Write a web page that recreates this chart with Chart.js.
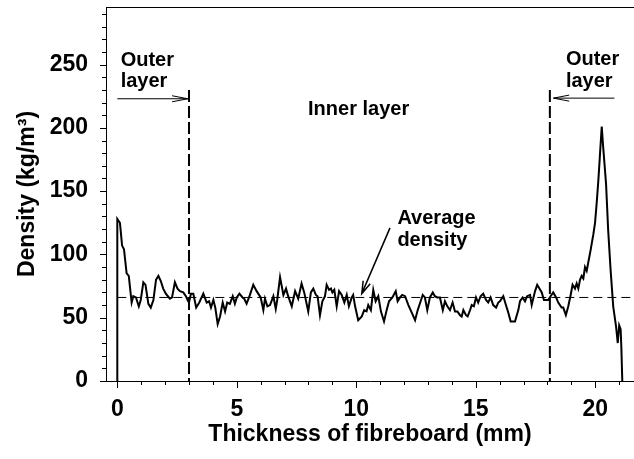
<!DOCTYPE html>
<html>
<head>
<meta charset="utf-8">
<script src="https://cdn.jsdelivr.net/npm/chart.js@4.4.1/dist/chart.umd.min.js"></script>
<style>
  html, body { margin: 0; padding: 0; background: #fff; }
</style>
</head>
<body>
<canvas id="chart" width="634" height="459"></canvas>
<script>
// Density profile (mm, kg/m3)
const thickness = [
  0, 0, 0.11, 0.2, 0.28, 0.39, 0.48, 0.6, 0.67, 0.78,
  0.9, 0.98, 1.09, 1.18, 1.3, 1.4, 1.51, 1.62, 1.72, 1.82,
  1.92, 2.03, 2.2, 2.29, 2.41, 2.52, 2.62, 2.76, 2.87, 2.94,
  3.0, 3.08, 3.18, 3.3, 3.43, 3.6, 3.74, 3.84, 3.92, 4.02,
  4.1, 4.2, 4.3, 4.41, 4.51, 4.6, 4.71, 4.83, 4.92, 5.0,
  5.11, 5.24, 5.31, 5.41, 5.55, 5.69, 5.83, 6.0, 6.11, 6.18,
  6.28, 6.39, 6.53, 6.63, 6.69, 6.81, 6.95, 7.06, 7.15, 7.3,
  7.44, 7.57, 7.71, 7.82, 7.99, 8.1, 8.2, 8.31, 8.38, 8.48,
  8.58, 8.69, 8.76, 8.86, 8.94, 9.0, 9.08, 9.18, 9.28, 9.39,
  9.5, 9.6, 9.69, 9.81, 9.87, 9.95, 10.08, 10.23, 10.33, 10.43,
  10.5, 10.61, 10.71, 10.81, 10.92, 11.03, 11.16, 11.27, 11.37, 11.51,
  11.65, 11.73, 11.83, 11.92, 12.04, 12.18, 12.32, 12.46, 12.57, 12.71,
  12.78, 12.87, 12.97, 13.08, 13.2, 13.29, 13.39, 13.5, 13.62, 13.71,
  13.81, 13.92, 14.03, 14.13, 14.23, 14.34, 14.41, 14.48, 14.59, 14.66,
  14.76, 14.83, 14.92, 15.01, 15.1, 15.2, 15.31, 15.43, 15.52, 15.62,
  15.73, 15.85, 15.94, 16.01, 16.15, 16.26, 16.36, 16.46, 16.64, 16.78,
  16.85, 16.96, 17.06, 17.15, 17.27, 17.34, 17.48, 17.57, 17.76, 17.85,
  18.03, 18.13, 18.24, 18.36, 18.45, 18.59, 18.66, 18.77, 18.87, 18.97,
  19.05, 19.15, 19.22, 19.29, 19.36, 19.43, 19.5, 19.57, 19.64, 19.71,
  19.81, 19.92, 19.99, 20.06, 20.13, 20.2, 20.27, 20.33, 20.45, 20.54,
  20.64, 20.75, 20.87, 20.94, 21.0, 21.06, 21.09, 21.13
];
const density = [
  0, 128, 125, 107, 104, 85, 83, 62, 67, 66,
  59, 64, 78, 76, 61, 58, 64, 80, 83, 79,
  73, 69, 65, 66, 78, 73, 71, 70, 67, 64,
  62, 69, 69, 58, 62, 69, 62, 63, 58, 64,
  58, 45, 51, 62, 55, 62, 61, 67, 61, 66,
  69, 66, 65, 61, 68, 76, 71, 66, 56, 65,
  59, 60, 67, 57, 64, 82, 68, 73, 67, 59,
  71, 65, 77, 70, 55, 70, 73, 68, 67, 52,
  63, 67, 76, 72, 73, 70, 72, 59, 71, 68,
  62, 68, 59, 66, 68, 59, 48, 51, 56, 55,
  60, 56, 72, 63, 67, 55, 47, 56, 63, 66,
  71, 63, 66, 68, 67, 60, 54, 48, 56, 64,
  68, 66, 56, 66, 70, 67, 66, 66, 56, 63,
  59, 56, 62, 55, 55, 52, 51, 56, 52, 51,
  56, 60, 59, 66, 62, 67, 69, 64, 62, 66,
  60, 58, 62, 63, 67, 60, 54, 47, 47, 56,
  63, 66, 63, 67, 68, 60, 71, 76, 70, 64,
  64, 67, 70, 66, 62, 58, 58, 52, 59, 68,
  76, 73, 77, 73, 80, 83, 81, 90, 87, 94,
  104, 116, 125, 141, 159, 180, 201, 185, 156, 119,
  88, 59, 43, 30, 44, 41, 27, 0
];
const averageDensity = 66;
const layerBounds = [3.0, 18.1];   // outer / inner layer boundaries (mm)
const layerLineTop = 230;

const X_MIN = -0.473, X_MAX = 21.62;
const Y_MIN = 0, Y_MAX = 295.5;

const FONT = '"Liberation Sans", Arial, Helvetica, sans-serif';
Chart.defaults.font.family = FONT;
Chart.defaults.color = '#000';

// annotation texts / arrows, placed in data units
const notes = [
  { text: 'Outer', x: 0.14, y: 249 },
  { text: 'layer', x: 0.14, y: 232 },
  { text: 'Outer', x: 18.77, y: 249.5 },
  { text: 'layer', x: 18.77, y: 232 },
  { text: 'Inner layer', x: 7.98, y: 210 },
  { text: 'Average', x: 11.72, y: 124 },
  { text: 'density', x: 11.72, y: 107 }
];
const arrows = [
  { from: [0, 223], to: [2.95, 223], head: 16, angle: 0.19, width: 1 },
  { from: [20.8, 223.5], to: [18.25, 223.5], head: 16, angle: 0.19, width: 1 },
  { from: [11.41, 121], to: [10.23, 69], head: 13, angle: 0.3, width: 1.5 }
];

function drawArrow(ctx, x1, y1, x2, y2, len, ang) {
  const a = Math.atan2(y2 - y1, x2 - x1);
  ctx.beginPath();
  ctx.moveTo(x1, y1);
  ctx.lineTo(x2, y2);
  ctx.moveTo(x2 - len * Math.cos(a - ang), y2 - len * Math.sin(a - ang));
  ctx.lineTo(x2, y2);
  ctx.lineTo(x2 - len * Math.cos(a + ang), y2 - len * Math.sin(a + ang));
  ctx.stroke();
}

const decorations = {
  id: 'decorations',
  afterDraw(chart) {
    const { ctx, chartArea } = chart;
    const xs = chart.scales.x, ys = chart.scales.y;
    ctx.save();
    ctx.strokeStyle = '#000';
    ctx.lineWidth = 1;

    // top frame line
    const topY = Math.floor(chartArea.top) + 0.5;
    ctx.beginPath();
    ctx.moveTo(chartArea.left, topY);
    ctx.lineTo(chartArea.right, topY);
    ctx.stroke();

    // x ticks, major every 5 mm, minor every 1 mm
    ctx.beginPath();
    for (let v = 0; v <= 21; v++) {
      const px = Math.round(xs.getPixelForValue(v)) + 0.5;
      const len = v % 5 === 0 ? 7 : 4;
      ctx.moveTo(px, chartArea.bottom);
      ctx.lineTo(px, chartArea.bottom + len);
    }
    // y ticks, major every 50, minor every 10
    for (let v = 0; v <= 290; v += 10) {
      const py = Math.round(ys.getPixelForValue(v)) + 0.5;
      const len = v % 50 === 0 ? 6 : 4;
      ctx.moveTo(chartArea.left, py);
      ctx.lineTo(chartArea.left - len, py);
    }
    ctx.stroke();

    // arrows
    arrows.forEach(a => {
      ctx.lineWidth = a.width;
      drawArrow(ctx,
        xs.getPixelForValue(a.from[0]), ys.getPixelForValue(a.from[1]),
        xs.getPixelForValue(a.to[0]), ys.getPixelForValue(a.to[1]),
        a.head, a.angle);
    });

    // texts
    ctx.fillStyle = '#000';
    ctx.font = 'bold 20px ' + FONT;
    ctx.textAlign = 'left';
    ctx.textBaseline = 'alphabetic';
    notes.forEach(n => ctx.fillText(n.text, xs.getPixelForValue(n.x), ys.getPixelForValue(n.y)));
    ctx.restore();
  }
};

const points = thickness.map((t, i) => ({ x: t, y: density[i] }));

new Chart(document.getElementById('chart'), {
  type: 'line',
  data: {
    datasets: [
      {
        label: 'Density',
        data: points,
        borderColor: '#000',
        borderWidth: 2,
        pointRadius: 0,
        tension: 0,
        fill: false
      },
      {
        label: 'Average density',
        data: [{ x: 0, y: averageDensity }, { x: X_MAX, y: averageDensity }],
        borderColor: '#000',
        borderWidth: 1,
        borderDash: [9, 5],
        pointRadius: 0
      },
      ...layerBounds.map(b => ({
        label: 'Layer boundary',
        data: [{ x: b, y: layerLineTop }, { x: b, y: 0 }],
        borderColor: '#000',
        borderWidth: 2,
        borderDash: [12, 4],
        pointRadius: 0
      }))
    ]
  },
  options: {
    responsive: false,
    animation: false,
    layout: { padding: { top: 7, right: 0, bottom: 0, left: 0 } },
    plugins: {
      legend: { display: false },
      tooltip: { enabled: false }
    },
    scales: {
      x: {
        type: 'linear',
        min: X_MIN,
        max: X_MAX,
        grid: { display: false, drawTicks: false },
        border: { display: true, color: '#000', width: 1 },
        ticks: {
          stepSize: 5,
          includeBounds: false,
          padding: 15,
          maxRotation: 0,
          font: { size: 23, weight: 'bold' },
          color: '#000'
        },
        title: {
          display: true,
          text: 'Thickness of fibreboard (mm)',
          font: { size: 23, weight: 'bold' },
          color: '#000',
          padding: { top: 0, bottom: 11 }
        },
        afterFit(scale) {
          scale.height = 78;
          scale.paddingLeft = 0;
          scale.paddingRight = 0;
        }
      },
      y: {
        min: Y_MIN,
        max: Y_MAX,
        grid: { display: false, drawTicks: false },
        border: { display: true, color: '#000', width: 1 },
        ticks: {
          stepSize: 50,
          includeBounds: false,
          padding: 18,
          font: { size: 23, weight: 'bold' },
          color: '#000'
        },
        title: {
          display: true,
          text: 'Density (kg/m³)',
          font: { size: 23, weight: 'bold' },
          color: '#000',
          padding: { top: 14, bottom: 0 }
        },
        afterFit(scale) {
          scale.width = 106;
          scale.paddingTop = 0;
          scale.paddingBottom = 0;
        }
      }
    }
  },
  plugins: [decorations]
});
</script>
</body>
</html>
